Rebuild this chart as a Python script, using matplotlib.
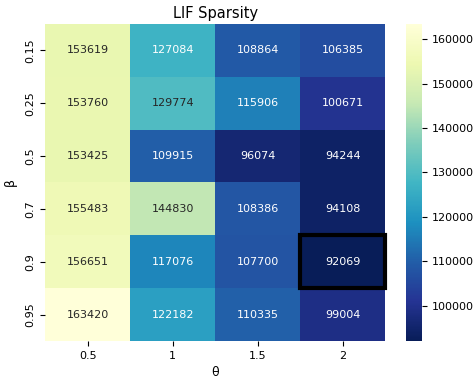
import numpy as np
import matplotlib
matplotlib.use("Agg")
import matplotlib.pyplot as plt
import seaborn as sns
from matplotlib.patches import Rectangle

beta_labels = ["0.15", "0.25", "0.5", "0.7", "0.9", "0.95"]
theta_labels = ["0.5", "1", "1.5", "2"]
values = [
    [153619, 127084, 108864, 106385],
    [153760, 129774, 115906, 100671],
    [153425, 109915, 96074, 94244],
    [155483, 144830, 108386, 94108],
    [156651, 117076, 107700, 92069],
    [163420, 122182, 110335, 99004],
]
highlight_row = 4
highlight_col = 3

data = np.array(values)
fig, ax = plt.subplots(figsize=(4.75, 3.81), dpi=100)
sns.heatmap(data, annot=True, fmt="d", cmap="YlGnBu_r",
            xticklabels=theta_labels, yticklabels=beta_labels, ax=ax,
            annot_kws={"fontsize": 8})
ax.add_patch(Rectangle((highlight_col, highlight_row), 1, 1, fill=False,
                       edgecolor="black", lw=3, clip_on=False))
ax.set_title("LIF Sparsity", fontsize=10.5, pad=4)
ax.set_xlabel("θ", fontsize=9)
ax.set_ylabel("β", fontsize=9, labelpad=6)
ax.tick_params(labelsize=8)
cbar = ax.collections[0].colorbar
cbar.ax.tick_params(labelsize=8)
plt.subplots_adjust(left=0.095, right=0.99, top=0.937, bottom=0.105)
fig.savefig("out.png")
